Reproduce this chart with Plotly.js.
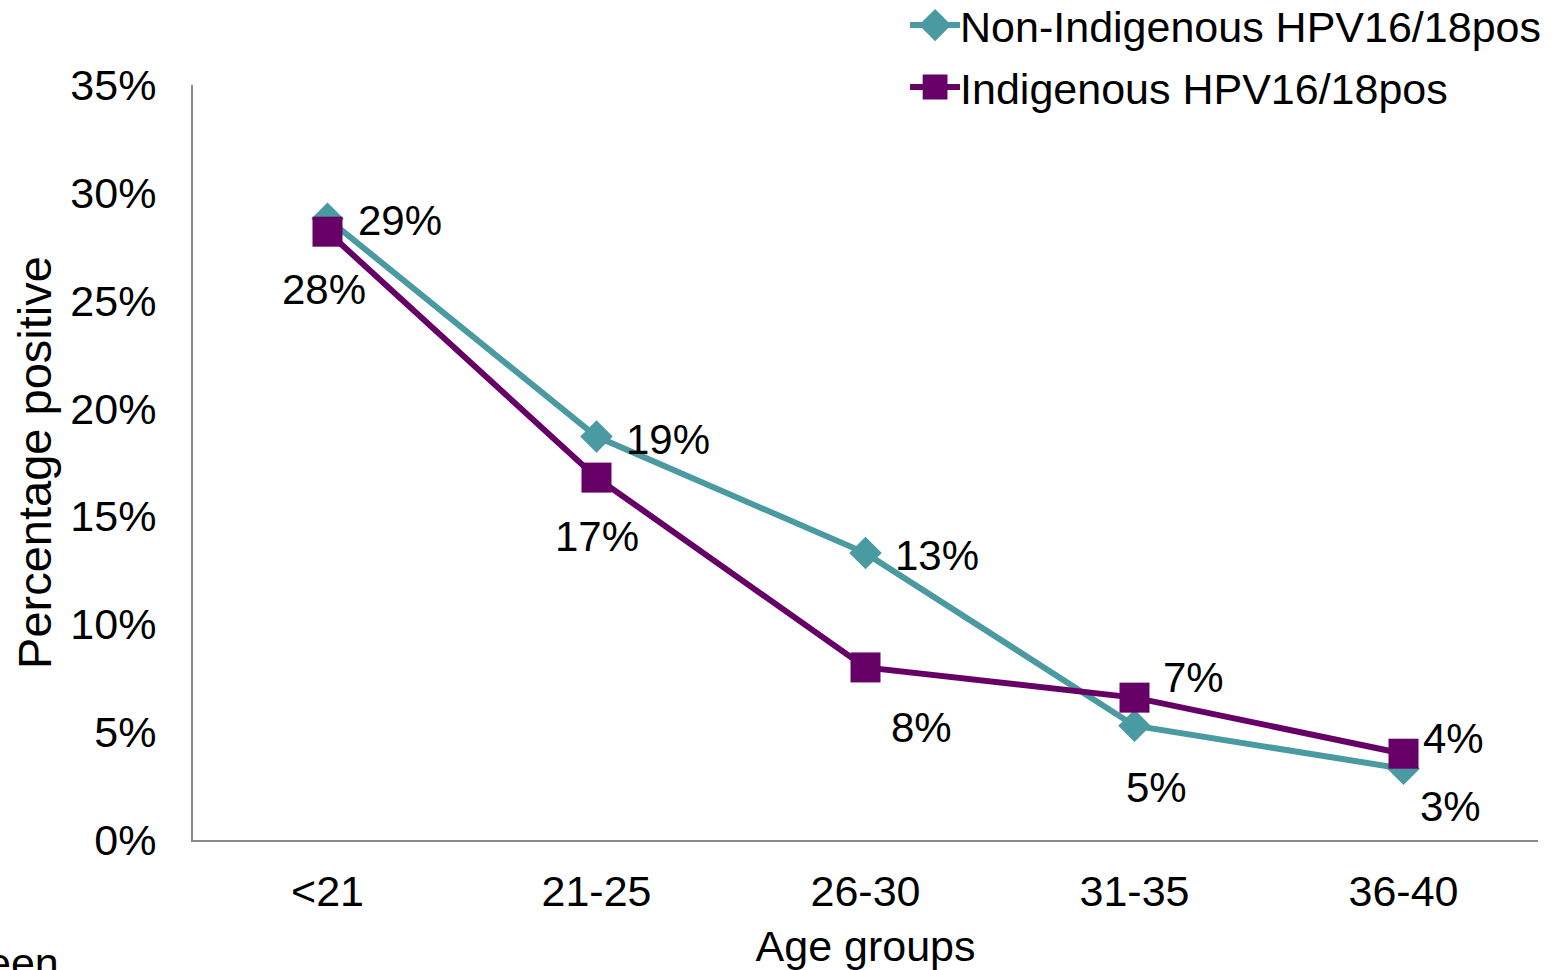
<!DOCTYPE html>
<html>
<head>
<meta charset="utf-8">
<script src="https://cdn.plot.ly/plotly-3.0.1.min.js"></script>
<style>
  html, body { margin: 0; padding: 0; background: #fff; }
  #chart { width: 1556px; height: 970px; }
</style>
</head>
<body>
<div id="chart"></div>
<script>
// HPV16/18 positivity by age group
const ageGroups = ['<21', '21-25', '26-30', '31-35', '36-40'];
const nonIndigenous = [28.8, 18.7, 13.3, 5.3, 3.3];
const indigenous = [28.2, 16.8, 8.0, 6.6, 4.0];
const seriesNames = ['Non-Indigenous HPV16/18pos', 'Indigenous HPV16/18pos'];

// label placement relative to each marker (pixels)
const nonIndigenousLabelShift = [[72, -2], [71, -3], [71, -2], [22, -62], [47, -38]];
const indigenousLabelShift = [[-4, -58], [0, -59], [56, -60], [59, 20], [50, 15]];

const FONT = 'Liberation Sans, Arial, sans-serif';
const TEAL = '#4a9aa1';
const PURPLE = '#660066';
const SIZE = 43;

const traces = [
  {
    x: ageGroups, y: nonIndigenous, name: seriesNames[0], type: 'scatter', mode: 'lines+markers',
    line: { color: TEAL, width: 6 },
    marker: { symbol: 'diamond', size: 25, color: TEAL },
    legendgroup: 'a', cliponaxis: false
  },
  {
    x: ageGroups, y: indigenous, name: seriesNames[1], type: 'scatter', mode: 'lines+markers',
    line: { color: PURPLE, width: 6 },
    marker: { symbol: 'square', size: 30, color: PURPLE },
    legendgroup: 'b', cliponaxis: false
  }
];

function labels(values, shifts) {
  return values.map((v, i) => ({
    x: ageGroups[i], y: v, xref: 'x', yref: 'y',
    text: Math.round(v) + '%', showarrow: false,
    xshift: shifts[i][0], yshift: shifts[i][1],
    font: { family: FONT, size: 42, color: '#000' }
  }));
}

const annotations = labels(nonIndigenous, nonIndigenousLabelShift)
  .concat(labels(indigenous, indigenousLabelShift));

annotations.push({
  text: 'een', xref: 'paper', yref: 'paper', x: -0.155, y: -0.128,
  xanchor: 'left', yanchor: 'top', showarrow: false,
  font: { family: FONT, size: SIZE, color: '#000' }
});

const layout = {
  width: 1556, height: 970,
  margin: { l: 193, r: 18, t: 85, b: 130, autoexpand: false },
  paper_bgcolor: '#fff', plot_bgcolor: '#fff',
  font: { family: FONT, size: SIZE, color: '#000' },
  xaxis: {
    type: 'category', range: [-0.5, 4.5],
    showgrid: false, zeroline: false,
    showline: true, linecolor: '#898989', linewidth: 2,
    ticks: '', ticklabelstandoff: 12,
    tickfont: { family: FONT, size: SIZE, color: '#000' },
    title: { text: 'Age groups', font: { family: FONT, size: SIZE, color: '#000' }, standoff: 17 }
  },
  yaxis: {
    range: [0, 35], dtick: 5, ticksuffix: '%',
    showgrid: false, zeroline: false,
    showline: true, linecolor: '#898989', linewidth: 2,
    ticks: '', ticklabelstandoff: 26,
    tickfont: { family: FONT, size: SIZE, color: '#000' },
    title: { text: 'Percentage positive', font: { family: FONT, size: 47, color: '#000' }, standoff: 4 }
  },
  legend: {
    x: 1.006, xanchor: 'right', y: 1.125, yanchor: 'top',
    bgcolor: 'rgba(0,0,0,0)', tracegroupgap: 3,
    font: { family: FONT, size: SIZE, color: '#000' },
    itemwidth: 40
  },
  showlegend: true,
  annotations: annotations
};

// longer legend line samples with full-size markers
function styleLegend() {
  document.querySelectorAll('#chart .legend .legendlines path').forEach(p => {
    p.setAttribute('d', 'M-10,0h60');
  });
  document.querySelectorAll('#chart .legend .legendpoints path.scatterpts').forEach(p => {
    const t = p.getAttribute('transform') || '';
    if (t.indexOf('scale') < 0) p.setAttribute('transform', t + ' scale(1.55)');
  });
}

Plotly.newPlot('chart', traces, layout, { displayModeBar: false, staticPlot: true }).then(styleLegend);
</script>
</body>
</html>
